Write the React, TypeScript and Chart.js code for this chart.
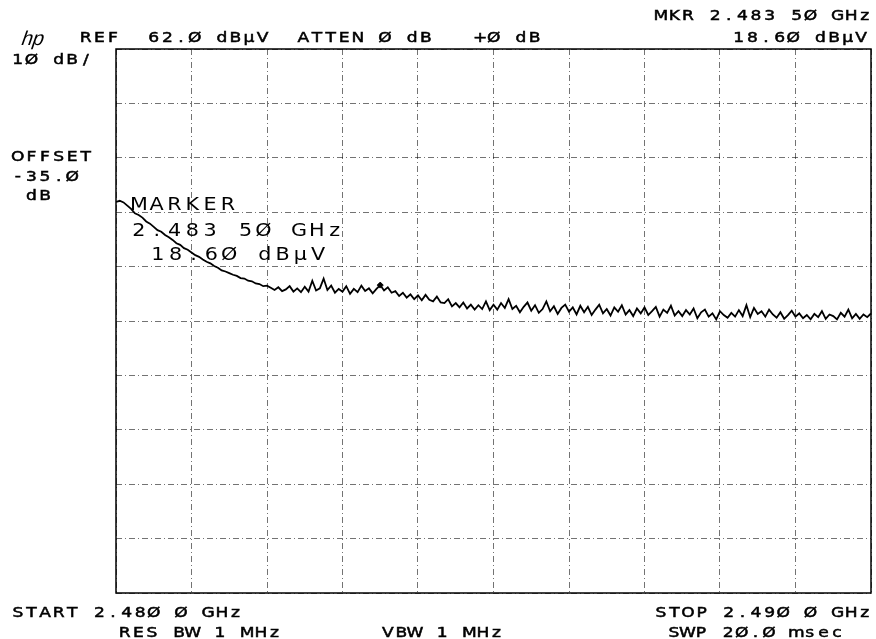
import React, { useEffect, useRef } from "react";
import { Chart, registerables } from "chart.js";

Chart.register(...registerables);

// Sweep settings
const startFreqGHz = 2.48;
const stopFreqGHz = 2.49;
const refLevel = 62; // dBμV (top of screen)
const dbPerDiv = 10;
const divisions = 10;

// Trace values (dBμV), 201 sweep points from START to STOP
const traceLevels: number[] = [
  33.9, 34.1, 33.8, 33.2, 32.6, 31.8, 31.5, 31.0, 30.3, 29.9,
  29.3, 28.7, 28.4, 27.8, 27.4, 26.9, 26.3, 26.0, 25.4, 25.1,
  24.6, 24.1, 23.8, 23.3, 22.9, 22.6, 22.1, 21.8, 21.3, 21.1,
  20.8, 20.5, 20.3, 19.9, 19.8, 19.4, 19.3, 18.9, 18.8, 18.4,
  18.5, 18.1, 17.7, 18.2, 17.5, 17.8, 18.4, 17.4, 18.0, 17.3,
  18.3, 17.4, 19.4, 17.6, 18.0, 19.8, 17.7, 18.5, 17.2, 17.9,
  17.4, 18.4, 17.0, 17.9, 17.3, 18.5, 17.5, 18.0, 17.1, 17.9,
  18.6, 17.6, 18.2, 17.2, 17.5, 16.6, 17.2, 16.3, 16.9, 16.0,
  16.7, 15.8, 16.8, 15.9, 15.6, 16.5, 15.4, 15.3, 16.0, 14.7,
  15.3, 14.5, 15.4, 14.3, 15.0, 14.1, 14.9, 14.2, 15.6, 14.0,
  15.0, 14.1, 15.3, 14.4, 16.0, 14.2, 14.8, 13.6, 14.6, 15.4,
  13.9, 14.9, 13.5, 14.2, 15.6, 13.8, 14.7, 13.3, 14.4, 15.0,
  13.7, 14.5, 13.2, 14.8, 13.6, 14.6, 13.1, 14.1, 15.0, 13.4,
  14.2, 13.0, 14.5, 13.7, 14.9, 13.2, 14.0, 12.9, 14.3, 13.4,
  14.5, 13.1, 13.8, 14.6, 12.8, 14.1, 13.5, 14.8, 13.0, 13.8,
  12.9, 14.0, 13.2, 14.3, 12.5, 13.6, 14.1, 12.8, 13.4, 12.3,
  13.8, 13.1, 12.6, 13.5, 12.8, 14.0, 12.9, 14.9, 12.7, 14.4,
  13.3, 13.8, 12.8, 14.1, 13.2, 12.6, 13.6, 12.4, 13.1, 13.9,
  12.8, 13.4, 12.5, 13.1, 12.3, 13.3, 12.7, 13.8, 12.4, 13.2,
  12.9, 12.3, 13.5, 12.8, 14.1, 12.5, 13.3, 12.4, 13.2, 12.7,
  13.4,
];

// Marker
const markerFreqGHz = [2.4835];
const markerLevel = [18.6];

// Annotation texts
const headerLine = "REF  62.Ø dBμV  ATTEN Ø dB   +Ø dB";
const mkrLine1 = "MKR 2.483 5Ø GHz";
const mkrLine2 = "18.6Ø dBμV";
const scaleLabel = "1Ø dB/";
const offsetLines = ["OFFSET", "-35.Ø", " dB"];
const startLabel = "START 2.48Ø Ø GHz";
const stopLabel = "STOP 2.49Ø Ø GHz";
const resBwLabel = "RES BW 1 MHz";
const vbwLabel = "VBW 1 MHz";
const swpLabel = "SWP 2Ø.Ø msec";
const markerBox = ["MARKER", "2.483 5Ø GHz", "18.6Ø dBμV"];

function drawMono(
  ctx: CanvasRenderingContext2D,
  text: string,
  x: number,
  baseline: number,
  pitch: number,
  font: string,
  sx: number,
  weight: number
) {
  ctx.font = font;
  ctx.textAlign = "center";
  ctx.textBaseline = "alphabetic";
  ctx.lineWidth = weight;
  ctx.strokeStyle = "#000";
  for (let i = 0; i < text.length; i++) {
    const ch = text[i];
    if (ch === " ") continue;
    ctx.save();
    ctx.translate(x + i * pitch + pitch / 2, baseline);
    ctx.scale(sx, 1);
    ctx.fillText(ch, 0, 0);
    if (weight > 0) ctx.strokeText(ch, 0, 0);
    ctx.restore();
  }
}

const hpPlugin = {
  id: "hpText",
  beforeDatasetsDraw(chart: any) {
    const { ctx, chartArea } = chart;
    ctx.save();
    ctx.strokeStyle = "#000";
    ctx.lineWidth = 1.5;
    ctx.setLineDash([]);
    ctx.strokeRect(
      chartArea.left,
      chartArea.top,
      chartArea.right - chartArea.left,
      chartArea.bottom - chartArea.top
    );
    ctx.restore();
  },
  afterDraw(chart: any) {
    const ctx: CanvasRenderingContext2D = chart.ctx;
    ctx.save();
    ctx.fillStyle = "#000";
    const f = "14px 'DejaVu Sans'";
    const p = 13.6;
    const sx = 1.22;
    // hp logo
    ctx.save();
    ctx.translate(20, 45);
    ctx.transform(1, 0, -0.35, 1, 0, 0);
    ctx.font = "20px 'Liberation Sans'";
    ctx.textAlign = "left";
    ctx.fillText("hp", 0, 0);
    ctx.restore();
    drawMono(ctx, headerLine, 79, 42, p, f, sx, 0.5);
    drawMono(ctx, mkrLine1, 654, 20, p, f, sx, 0.5);
    drawMono(ctx, mkrLine2, 732, 42, p, f, sx, 0.5);
    drawMono(ctx, scaleLabel, 11, 64, p, f, sx, 0.5);
    offsetLines.forEach((t, i) => drawMono(ctx, t, 11, 161 + i * 19.5, p, f, sx, 0.5));
    drawMono(ctx, startLabel, 11, 617, p, f, sx, 0.5);
    drawMono(ctx, stopLabel, 654, 617, p, f, sx, 0.5);
    drawMono(ctx, resBwLabel, 118, 637, p, f, sx, 0.5);
    drawMono(ctx, vbwLabel, 381, 637, p, f, sx, 0.5);
    drawMono(ctx, swpLabel, 667, 637, p, f, sx, 0.5);
    const mf = "18px 'DejaVu Sans'";
    const mp = 17.8;
    drawMono(ctx, markerBox[0], 130, 210, mp, mf, 1.15, 0);
    drawMono(ctx, markerBox[1], 130, 236, mp, mf, 1.15, 0);
    drawMono(ctx, markerBox[2], 149, 260, mp, mf, 1.15, 0);
    ctx.restore();
  },
};

export default function App() {
  const ref = useRef<HTMLCanvasElement | null>(null);
  useEffect(() => {
    document.body.style.margin = "0";
    const canvas = ref.current!;
    const n = traceLevels.length;
    const step = (stopFreqGHz - startFreqGHz) / (n - 1);
    const traceData = traceLevels.map((v, i) => ({ x: startFreqGHz + i * step, y: v }));
    const markerData = markerFreqGHz.map((f, i) => ({ x: f, y: markerLevel[i] }));
    const gridStyle = {
      color: "rgba(0,0,0,0.55)",
      lineWidth: 1,
      drawTicks: false,
    };
    const chart = new Chart(canvas, {
      type: "line",
      data: {
        datasets: [
          {
            data: traceData,
            borderColor: "#000",
            borderWidth: 1.8,
            pointRadius: 0,
            tension: 0,
            fill: false,
          },
          {
            data: markerData,
            showLine: false,
            pointStyle: "rectRot",
            pointRadius: 3,
            backgroundColor: "#000",
            borderColor: "#000",
          },
        ],
      },
      options: {
        responsive: false,
        animation: false,
        events: [],
        layout: { padding: { left: 116, top: 49, right: 4, bottom: 46 } },
        plugins: { legend: { display: false }, tooltip: { enabled: false } },
        scales: {
          x: {
            type: "linear",
            min: startFreqGHz,
            max: stopFreqGHz,
            ticks: { display: false, count: divisions + 1 },
            grid: gridStyle as any,
            border: { display: false, dash: [6, 3, 1, 3] },
          },
          y: {
            type: "linear",
            min: refLevel - dbPerDiv * divisions,
            max: refLevel,
            ticks: { display: false, stepSize: dbPerDiv },
            grid: gridStyle as any,
            border: { display: false, dash: [6, 3, 1, 3] },
          },
        },
      },
      plugins: [hpPlugin],
    });
    return () => chart.destroy();
  }, []);
  return (
    <div style={{ width: 876, height: 639, background: "#fff" }}>
      <canvas ref={ref} width={876} height={639} style={{ display: "block" }} />
    </div>
  );
}
